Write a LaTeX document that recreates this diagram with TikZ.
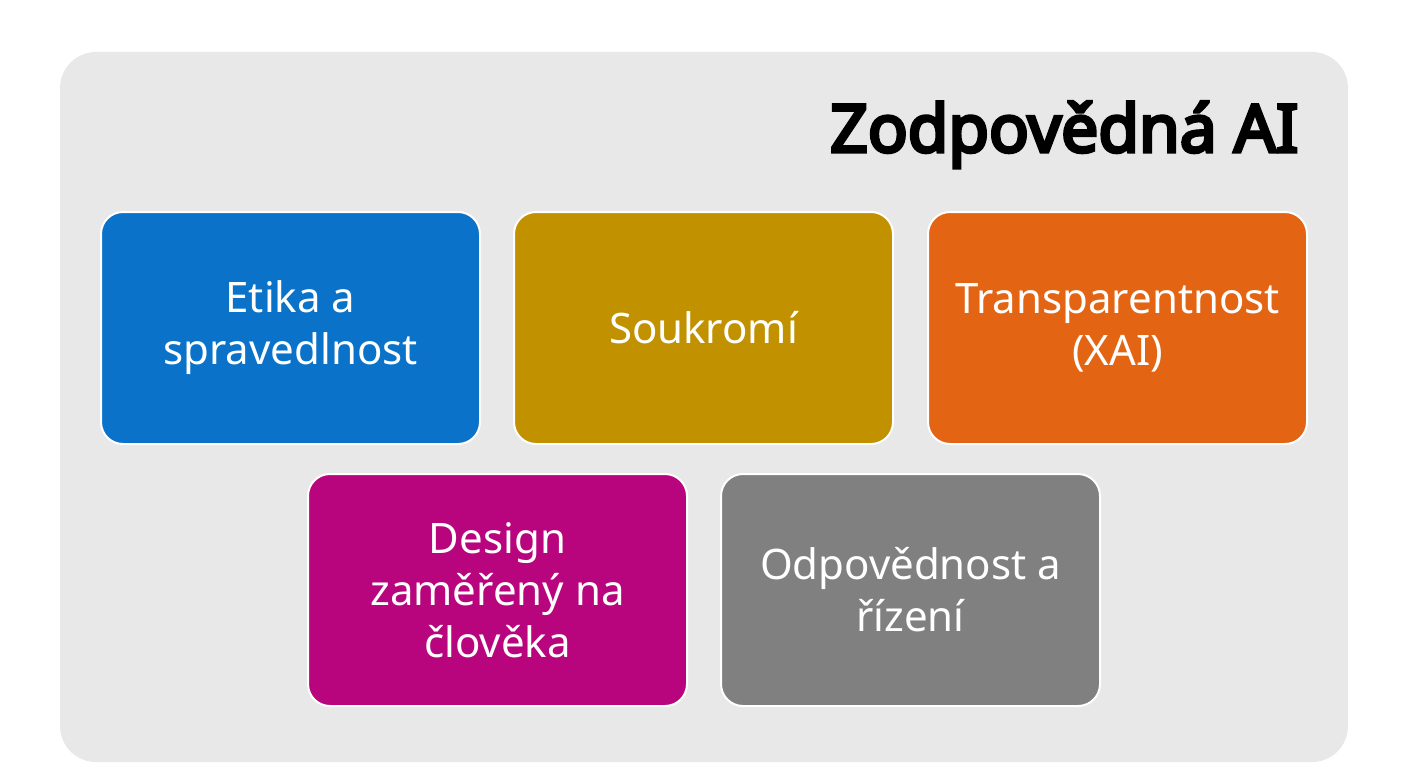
\documentclass[tikz,border=0pt]{standalone}
\usepackage{fontspec}
\setmainfont{Noto Sans}
\newfontfamily\titlefont{Noto Sans}[FakeBold=5]
\definecolor{panel}{HTML}{E8E8E8}
\definecolor{cblue}{HTML}{0A72C8}
\definecolor{cgold}{HTML}{C29100}
\definecolor{corange}{HTML}{E36412}
\definecolor{cmag}{HTML}{B8057E}
\definecolor{cgray}{HTML}{808080}
\begin{document}
\begin{tikzpicture}[x=1pt,y=-1pt,
  card/.style={draw=white, line width=2pt, rounded corners=22pt, minimum width=379pt, minimum height=232pt,
    text=white, align=center, font=\fontsize{42}{52}\selectfont, inner sep=0pt}]
\useasboundingbox (0,0) rectangle (1408,768);
\fill[white] (0,0) rectangle (1408,768);
\fill[panel, rounded corners=36pt] (60,52) rectangle (1348,762);
\node[anchor=base east, font=\titlefont\fontsize{66}{70}\selectfont, text=black] (title) at (1302,152) {Zodpovědná AI};
\node[card, fill=cblue] (b1) at (290.5,328) {Etika a\\spravedlnost};
\node[card, fill=cgold] (b2) at (703.5,328) {Soukromí};
\node[card, fill=corange] (b3) at (1117.5,328) {Transparentnost\\(XAI)};
\node[card, fill=cmag] (b4) at (497.5,590) {Design\\zaměřený na\\člověka};
\node[card, fill=cgray] (b5) at (910.5,590) {Odpovědnost a\\řízení};
\end{tikzpicture}
\end{document}
